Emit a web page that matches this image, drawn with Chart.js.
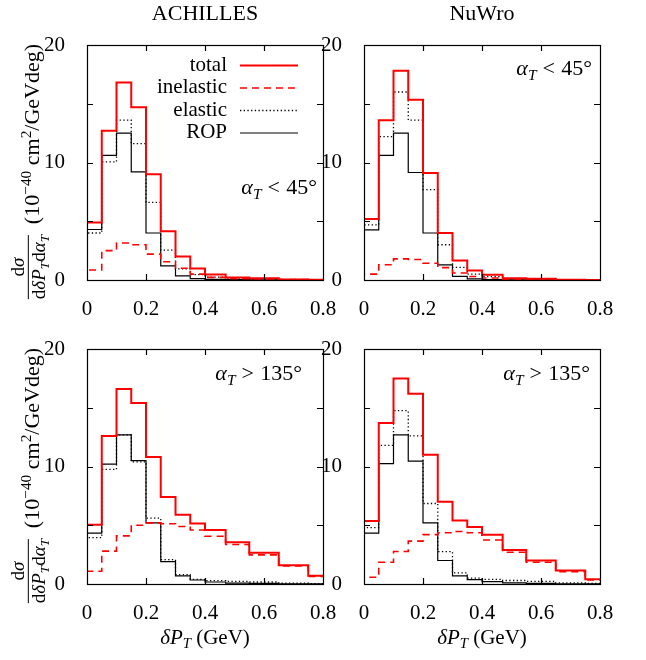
<!DOCTYPE html>
<html>
<head>
<meta charset="utf-8">
<script src="https://cdn.jsdelivr.net/npm/chart.js@4.4.0/dist/chart.umd.min.js"></script>
<style>
html,body{margin:0;padding:0;background:#fff;}
#wrap{position:relative;width:646px;height:660px;overflow:hidden;background:#fff;font-family:'Liberation Serif',serif;color:#000;}
#wrap canvas{position:absolute;left:0;top:0;}
.t{position:absolute;white-space:nowrap;line-height:1;font-size:21px;transform:translateY(-50%);}
.c{transform:translate(-50%,-50%);}
.r{transform:translateY(-50%);}
sub{font-size:0.7em;vertical-align:-0.3em;line-height:0;}
sup{font-size:0.7em;vertical-align:0.5em;line-height:0;}
.rot{position:absolute;white-space:nowrap;transform:translate(-50%,-50%) rotate(-90deg);}
.ymain{font-size:22px;line-height:1;}
.yfrac{font-size:19px;line-height:0.8;text-align:center;}
.num{display:block;border-bottom:1px solid #000;padding:0 2px 3px 2px;}
.den{display:block;padding-top:2px;}
.rel{padding:0 0.28em;}
</style>
</head>
<body>
<div id="wrap">
<canvas id="c0" width="646" height="660"></canvas>
<canvas id="c1" width="646" height="660"></canvas>
<canvas id="c2" width="646" height="660"></canvas>
<canvas id="c3" width="646" height="660"></canvas>

<div class="t c" style="left:205px;top:13px;font-size:22px;">ACHILLES</div>
<div class="t c" style="left:482px;top:13px;font-size:22px;">NuWro</div>

<div class="t r" style="right:329px;top:187px;font-size:22px;"><i>α</i><sub><i>T</i></sub><span class="rel">&lt;</span>45°</div>
<div class="t r" style="right:54px;top:68px;font-size:22px;"><i>α</i><sub><i>T</i></sub><span class="rel">&lt;</span>45°</div>
<div class="t r" style="right:344px;top:373px;font-size:22px;"><i>α</i><sub><i>T</i></sub><span class="rel">&gt;</span>135°</div>
<div class="t r" style="right:56px;top:373px;font-size:22px;"><i>α</i><sub><i>T</i></sub><span class="rel">&gt;</span>135°</div>

<div class="t c" style="left:205px;top:637px;"><i>δP</i><sub><i>T</i></sub> (GeV)</div>
<div class="t c" style="left:482px;top:637px;"><i>δP</i><sub><i>T</i></sub> (GeV)</div>

<div class="rot ymain" style="left:32px;top:134px;">(10<sup>−40</sup> cm<sup>2</sup>/GeVdeg)</div>
<div class="rot yfrac" style="left:28px;top:267px;"><span class="num">d<i>σ</i></span><span class="den">d<i>δP</i><sub><i>T</i></sub>d<i>α</i><sub><i>T</i></sub></span></div>
<div class="rot ymain" style="left:32px;top:438px;">(10<sup>−40</sup> cm<sup>2</sup>/GeVdeg)</div>
<div class="rot yfrac" style="left:28px;top:571px;"><span class="num">d<i>σ</i></span><span class="den">d<i>δP</i><sub><i>T</i></sub>d<i>α</i><sub><i>T</i></sub></span></div>
</div>

<script>
// ---- data ----
const binEdges = [0, 0.05, 0.1, 0.15, 0.2, 0.25, 0.3, 0.35, 0.4, 0.47, 0.55, 0.65, 0.75, 0.85];
const seriesNames = ['total', 'inelastic', 'elastic', 'ROP'];
const xTickLabels = ['0', '0.2', '0.4', '0.6', '0.8'];
const yTickValues = [0, 5, 10, 15, 20];
const yTickLabels = ['0', '', '10', '', '20'];

// ACHILLES, alpha_T < 45 deg
const achLowTotal = [4.9, 12.7, 16.8, 14.7, 9.0, 4.15, 2.0, 0.97, 0.47, 0.22, 0.15, 0.05, 0.02];
const achLowInel  = [0.85, 2.5, 3.15, 3.0, 2.2, 1.55, 1.0, 0.5, 0.22, 0.12, 0.08, 0.03, 0.01];
const achLowEl    = [4.0, 10.05, 13.6, 11.6, 6.6, 2.55, 0.95, 0.45, 0.25, 0.1, 0.07, 0.02, 0.01];
const achLowRop   = [4.3, 10.6, 12.5, 9.2, 4.0, 1.2, 0.35, 0.12, 0.06, 0.03, 0.02, 0.01, 0.0];

// NuWro, alpha_T < 45 deg
const nuLowTotal = [5.2, 13.6, 17.8, 15.35, 9.1, 4.0, 1.65, 0.8, 0.45, 0.15, 0.1, 0.03, 0.01];
const nuLowInel  = [0.5, 1.3, 1.8, 1.75, 1.42, 1.05, 0.6, 0.3, 0.17, 0.06, 0.04, 0.01, 0.0];
const nuLowEl    = [4.7, 12.2, 16.0, 13.6, 7.7, 3.0, 1.08, 0.5, 0.28, 0.1, 0.07, 0.02, 0.01];
const nuLowRop   = [4.27, 10.6, 12.5, 9.15, 4.0, 1.28, 0.31, 0.09, 0.04, 0.02, 0.01, 0.0, 0.0];

// ACHILLES, alpha_T > 135 deg
const achHighTotal = [5.04, 12.6, 16.6, 15.4, 10.8, 7.4, 5.9, 5.15, 4.6, 3.55, 2.65, 1.6, 0.7];
const achHighInel  = [1.08, 2.8, 4.1, 5.0, 5.2, 5.13, 4.9, 4.6, 4.07, 3.36, 2.48, 1.54, 0.65];
const achHighEl    = [3.95, 9.75, 12.7, 10.4, 5.6, 2.08, 0.8, 0.4, 0.28, 0.22, 0.17, 0.08, 0.04];
const achHighRop   = [4.33, 10.2, 12.7, 10.5, 5.2, 1.9, 0.7, 0.34, 0.17, 0.08, 0.05, 0.02, 0.01];

// NuWro, alpha_T > 135 deg
const nuHighTotal = [5.36, 13.7, 17.5, 16.2, 11.0, 7.0, 5.4, 4.85, 4.2, 2.9, 2.0, 1.15, 0.4];
const nuHighInel  = [0.57, 1.85, 2.76, 3.65, 4.2, 4.36, 4.47, 4.36, 3.75, 2.7, 1.85, 1.05, 0.35];
const nuHighEl    = [4.8, 11.8, 14.75, 12.6, 6.85, 2.75, 0.95, 0.5, 0.4, 0.3, 0.23, 0.1, 0.05];
const nuHighRop   = [4.33, 10.25, 12.7, 10.45, 5.2, 2.0, 0.7, 0.37, 0.2, 0.1, 0.05, 0.02, 0.01];

// ---- styling / layout ----
const W = 646, H = 660, Y_W = 60, X_H = 40;
const FONT = "'Liberation Serif', 'DejaVu Serif', serif";
const seriesStyles = [
  { borderColor: '#ff0000', borderWidth: 2, borderDash: [] },
  { borderColor: '#ff0000', borderWidth: 1.6, borderDash: [7, 5] },
  { borderColor: '#000000', borderWidth: 1.3, borderDash: [1.3, 2.4] },
  { borderColor: '#000000', borderWidth: 1.2, borderDash: [] }
];

function histPoints(values) {
  const pts = [{ x: binEdges[0], y: 0 }];
  for (let i = 0; i < binEdges.length; i++) {
    pts.push({ x: binEdges[i], y: values[Math.min(i, values.length - 1)] });
  }
  return pts;
}

const framePlugin = {
  id: 'frameTicks',
  afterDatasetsDraw(chart) {
    const { ctx, chartArea: a, scales } = chart;
    const xs = scales.x, ys = scales.y;
    const L = 6;
    ctx.save();
    ctx.strokeStyle = '#000';
    ctx.lineWidth = 1.2;
    ctx.setLineDash([]);
    ctx.strokeRect(a.left + 0.5, a.top + 0.5, a.right - a.left, a.bottom - a.top);
    ctx.beginPath();
    xs.ticks.forEach(t => {
      const px = Math.round(xs.getPixelForValue(t.value)) + 0.5;
      if (px <= a.left + 2 || px >= a.right - 1) return;
      ctx.moveTo(px, a.bottom); ctx.lineTo(px, a.bottom - L);
      ctx.moveTo(px, a.top); ctx.lineTo(px, a.top + L);
    });
    ys.ticks.forEach(t => {
      const py = Math.round(ys.getPixelForValue(t.value)) + 0.5;
      if (py <= a.top + 2 || py >= a.bottom - 1) return;
      ctx.moveTo(a.left, py); ctx.lineTo(a.left + L, py);
      ctx.moveTo(a.right, py); ctx.lineTo(a.right - L, py);
    });
    ctx.stroke();

    const lg = chart.options.plugins.innerLegend;
    if (lg && lg.show) {
      ctx.font = '21px ' + FONT;
      ctx.textAlign = 'right';
      ctx.textBaseline = 'middle';
      chart.data.datasets.forEach((ds, i) => {
        const y = lg.y0 + i * lg.step;
        ctx.fillStyle = '#000';
        ctx.fillText(ds.label, lg.textRight, y);
        ctx.beginPath();
        ctx.strokeStyle = ds.borderColor;
        ctx.lineWidth = ds.borderWidth;
        ctx.setLineDash(ds.borderDash || []);
        ctx.moveTo(lg.lineX0, y + 0.5);
        ctx.lineTo(lg.lineX1, y + 0.5);
        ctx.stroke();
      });
    }
    ctx.restore();
  }
};

const panels = [
  { id: 'c0', series: [achLowTotal, achLowInel, achLowEl, achLowRop], area: { left: 87, right: 323, top: 45, bottom: 280 }, legend: true },
  { id: 'c1', series: [nuLowTotal, nuLowInel, nuLowEl, nuLowRop], area: { left: 364, right: 600, top: 45, bottom: 280 } },
  { id: 'c2', series: [achHighTotal, achHighInel, achHighEl, achHighRop], area: { left: 87, right: 323, top: 349, bottom: 584 } },
  { id: 'c3', series: [nuHighTotal, nuHighInel, nuHighEl, nuHighRop], area: { left: 364, right: 600, top: 349, bottom: 584 } }
];

panels.forEach(p => {
  const datasets = p.series.map((vals, i) => Object.assign({
    label: seriesNames[i],
    data: histPoints(vals),
    stepped: true,
    pointRadius: 0,
    pointHoverRadius: 0,
    fill: false,
    tension: 0,
    borderCapStyle: 'butt',
    borderJoinStyle: 'miter'
  }, seriesStyles[i]));

  new Chart(document.getElementById(p.id), {
    type: 'line',
    data: { datasets },
    plugins: [framePlugin],
    options: {
      responsive: false,
      animation: false,
      events: [],
      layout: {
        padding: {
          left: p.area.left - Y_W,
          right: W - p.area.right,
          top: p.area.top,
          bottom: H - p.area.bottom - X_H
        }
      },
      plugins: {
        legend: { display: false },
        tooltip: { enabled: false },
        innerLegend: { show: !!p.legend, textRight: 227, lineX0: 240, lineX1: 298, y0: 65, step: 22.5 }
      },
      scales: {
        x: {
          type: 'linear', min: 0, max: 0.8,
          afterFit: s => { s.height = X_H; },
          grid: { display: false }, border: { display: false },
          ticks: {
            stepSize: 0.2, autoSkip: false, maxRotation: 0, padding: 9, color: '#000',
            font: { family: FONT, size: 21 },
            callback: (v, i) => xTickLabels[i]
          }
        },
        y: {
          type: 'linear', min: 0, max: 20,
          afterFit: s => { s.width = Y_W; },
          grid: { display: false }, border: { display: false },
          ticks: {
            stepSize: 5, padding: 14, color: '#000',
            font: { family: FONT, size: 21 },
            callback: v => { const k = yTickValues.indexOf(v); return k >= 0 ? yTickLabels[k] : ''; }
          }
        }
      }
    }
  });
});
</script>
</body>
</html>
